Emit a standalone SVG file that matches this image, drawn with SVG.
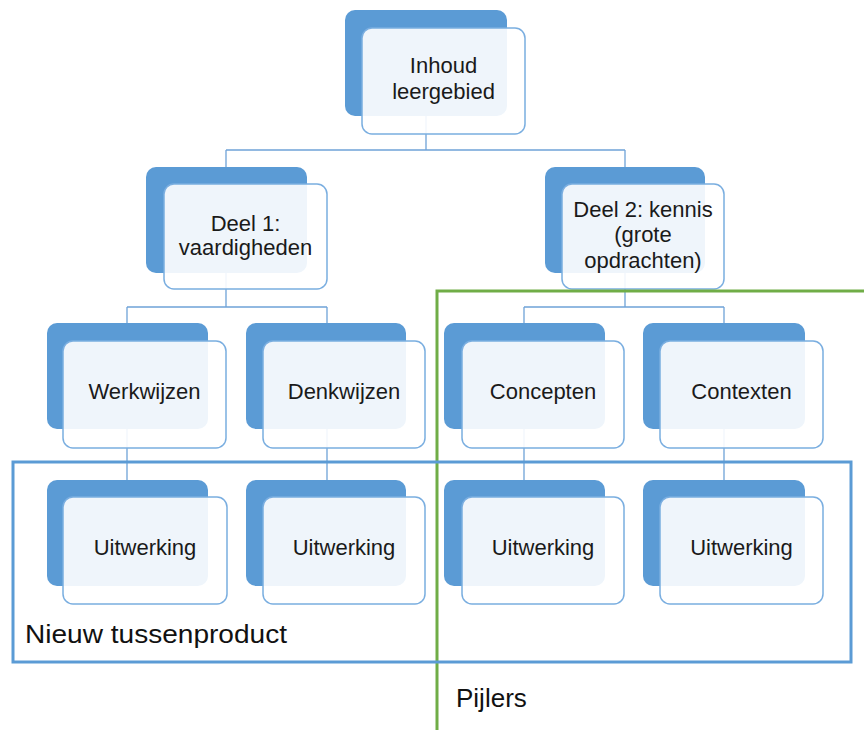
<svg xmlns="http://www.w3.org/2000/svg" width="864" height="730" viewBox="0 0 864 730">
<style>
.bg{fill:#5b9bd5}
.fg{fill:#ffffff;fill-opacity:0.9;stroke:#7aaee0;stroke-width:1.5}
.lbl{font-family:"Liberation Sans",Arial,sans-serif;font-size:22px;fill:#1a1a1a;text-anchor:middle}
.big{font-family:"Liberation Sans",Arial,sans-serif;font-size:26px;fill:#111111}
.con{stroke:#6fa3d8;stroke-width:1.3;fill:none}
</style>
<rect width="864" height="730" fill="#ffffff"/>
<g id="connectors">
<path class="con" d="M426 116V150M226 150H625M226 150V167M625 150V167"/>
<path class="con" d="M226 272V307M127 307H327M127 307V323M327 307V323"/>
<path class="con" d="M625 272V307M524 307H724M524 307V323M724 307V323"/>
<path class="con" d="M127 429V480M327 429V480M524 429V480M724 429V480"/>
</g>
<g id="n-inhoud">
<rect class="bg" x="345" y="10" width="162" height="106" rx="10"/>
<rect class="fg" x="362" y="28" width="163" height="106" rx="10"/>
<text class="lbl" x="443.5" y="73">Inhoud</text>
<text class="lbl" x="443.5" y="99">leergebied</text>
</g>
<g id="n-deel1">
<rect class="bg" x="146" y="167" width="161" height="106" rx="10"/>
<rect class="fg" x="164" y="184" width="163" height="105" rx="10"/>
<text class="lbl" x="245.5" y="231">Deel 1:</text>
<text class="lbl" x="245.5" y="255">vaardigheden</text>
</g>
<g id="n-deel2">
<rect class="bg" x="545" y="167" width="160" height="106" rx="10"/>
<rect class="fg" x="562" y="184" width="162" height="105" rx="10"/>
<text class="lbl" x="643" y="217">Deel 2: kennis</text>
<text class="lbl" x="643" y="242">(grote</text>
<text class="lbl" x="643" y="268">opdrachten)</text>
</g>
<g id="n-werkwijzen">
<rect class="bg" x="47" y="323" width="161" height="106" rx="10"/>
<rect class="fg" x="63" y="341" width="163" height="107" rx="10"/>
<text class="lbl" x="144.5" y="399">Werkwijzen</text>
</g>
<g id="n-denkwijzen">
<rect class="bg" x="246" y="323" width="160" height="106" rx="10"/>
<rect class="fg" x="263" y="341" width="162" height="107" rx="10"/>
<text class="lbl" x="344" y="399">Denkwijzen</text>
</g>
<g id="n-concepten">
<rect class="bg" x="444" y="323" width="161" height="106" rx="10"/>
<rect class="fg" x="462" y="341" width="162" height="107" rx="10"/>
<text class="lbl" x="543" y="399">Concepten</text>
</g>
<g id="n-contexten">
<rect class="bg" x="643" y="323" width="162" height="106" rx="10"/>
<rect class="fg" x="660" y="341" width="163" height="107" rx="10"/>
<text class="lbl" x="741.5" y="399">Contexten</text>
</g>
<g id="n-uitwerking1">
<rect class="bg" x="47" y="480" width="161" height="106" rx="10"/>
<rect class="fg" x="63" y="497" width="164" height="107" rx="10"/>
<text class="lbl" x="145" y="555">Uitwerking</text>
</g>
<g id="n-uitwerking2">
<rect class="bg" x="246" y="480" width="160" height="106" rx="10"/>
<rect class="fg" x="263" y="497" width="162" height="107" rx="10"/>
<text class="lbl" x="344" y="555">Uitwerking</text>
</g>
<g id="n-uitwerking3">
<rect class="bg" x="444" y="480" width="161" height="106" rx="10"/>
<rect class="fg" x="462" y="497" width="162" height="107" rx="10"/>
<text class="lbl" x="543" y="555">Uitwerking</text>
</g>
<g id="n-uitwerking4">
<rect class="bg" x="643" y="480" width="162" height="106" rx="10"/>
<rect class="fg" x="660" y="497" width="163" height="107" rx="10"/>
<text class="lbl" x="741.5" y="555">Uitwerking</text>
</g>
<g id="pijlers">
<path d="M437 730V291H866" fill="none" stroke="#70ad47" stroke-width="3"/>
<text class="big" x="456" y="707">Pijlers</text>
</g>
<g id="tussenproduct">
<rect x="13" y="462" width="838" height="200" fill="none" stroke="#5b9bd5" stroke-width="3"/>
<text class="big" x="25" y="643" font-size="27" textLength="262" lengthAdjust="spacingAndGlyphs">Nieuw tussenproduct</text>
</g>
</svg>
